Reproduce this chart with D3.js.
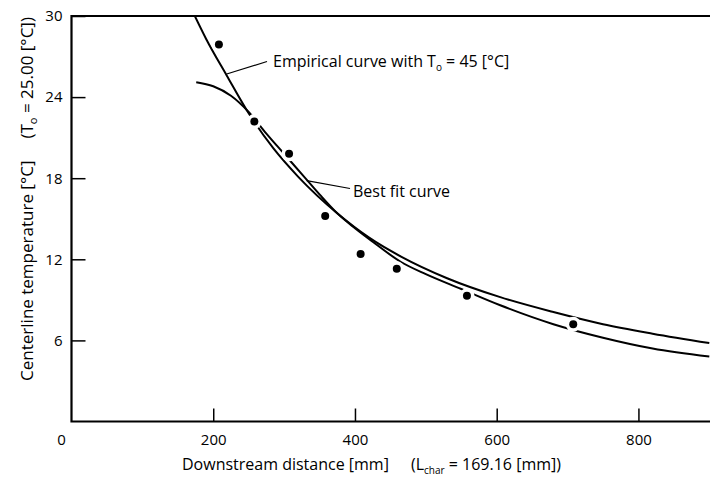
<!DOCTYPE html>
<html><head><meta charset="utf-8">
<script src="https://cdn.jsdelivr.net/npm/d3@7"></script>
<style>body{margin:0;background:#fff}svg{display:block}text{font-family:"Open Sans",sans-serif;fill:#000}</style>
</head><body><svg id="c" width="710" height="478"></svg>
<script>
// Measured points
const pointX = [208, 258, 307, 358, 408, 459, 558, 708];
const pointT = [27.9, 22.2, 19.8, 15.2, 12.4, 11.3, 9.3, 7.2];
// Empirical curve (T0 = 45 °C)
const empX = [174, 190, 219, 250, 285, 320, 375, 420, 465, 530, 605, 680, 750, 820, 900];
const empT = [30.0, 28.3, 25.6, 22.8, 20.2, 18.1, 15.4, 13.6, 12.2, 10.6, 9.2, 8.1, 7.2, 6.5, 5.8];
// Best fit curve
const fitX = [176, 200, 225, 250, 275, 300, 325, 350, 375, 400, 425, 465, 500, 550, 605, 680, 750, 820, 900];
const fitT = [25.1, 24.8, 24.1, 22.9, 21.3, 19.8, 18.3, 16.8, 15.4, 14.3, 13.3, 11.8, 10.9, 9.8, 8.6, 7.2, 6.2, 5.4, 4.8];
const xTicks = [0, 200, 400, 600, 800];
const yTicks = [6, 12, 18, 24, 30];

const svg = d3.select("#c");
const x = d3.scaleLinear().domain([0, 900]).range([71.5, 709.3]);
const y = d3.scaleLinear().domain([0, 30]).range([421.5, 16]);

svg.append("clipPath").attr("id","clip").append("rect")
  .attr("x", 71.5).attr("y", 16).attr("width", 640).attr("height", 406);

const xAxis = svg.append("g").attr("transform", `translate(0,${y(0)})`)
  .call(d3.axisBottom(x).tickValues(xTicks.filter(d => d > 0)).tickSize(-13).tickPadding(0).tickFormat(d3.format("d")));
xAxis.select(".domain").remove();
xAxis.selectAll(".tick line").attr("stroke", "#000").attr("stroke-width", 1.5);
xAxis.selectAll(".tick text").attr("font-size", 15).attr("y", 13).attr("dy", "0.71em").attr("font-family", "Open Sans");

const yAxis = svg.append("g").attr("transform", `translate(${x(0)},0)`)
  .call(d3.axisLeft(y).tickValues(yTicks).tickSize(-14).tickPadding(9).tickFormat(d3.format("d")));
yAxis.select(".domain").remove();
yAxis.selectAll(".tick line").attr("stroke", "#000").attr("stroke-width", 1.5);
yAxis.selectAll(".tick text").attr("font-size", 15).attr("font-family", "Open Sans");

svg.append("text").attr("x", x(0) - 10).attr("y", y(0) + 13).attr("dy", "0.71em")
  .attr("text-anchor", "middle").attr("font-size", 15).text(xTicks[0]);

svg.append("path").attr("d", `M${x(900)+2},${y(30)}H${x(0)}V${y(0)}H${x(900)+2}`)
  .attr("fill", "none").attr("stroke", "#000").attr("stroke-width", 2.2);

const line = d3.line().x(d => x(d[0])).y(d => y(d[1])).curve(d3.curveMonotoneX);
const plot = svg.append("g").attr("clip-path", "url(#clip)");
plot.append("path").datum(d3.zip(empX, empT)).attr("d", line)
  .attr("fill", "none").attr("stroke", "#000").attr("stroke-width", 2);
plot.append("path").datum(d3.zip(fitX, fitT)).attr("d", line)
  .attr("fill", "none").attr("stroke", "#000").attr("stroke-width", 2);

plot.selectAll("circle.halo").data(d3.zip(pointX, pointT)).join("circle")
  .attr("cx", d => x(d[0])).attr("cy", d => y(d[1])).attr("r", 7.5).attr("fill", "#fff");
plot.selectAll("circle.pt").data(d3.zip(pointX, pointT)).join("circle")
  .attr("cx", d => x(d[0])).attr("cy", d => y(d[1])).attr("r", 4).attr("fill", "#000");

svg.append("line").attr("x1", 226.7).attr("y1", 74).attr("x2", 267).attr("y2", 61.5)
  .attr("stroke", "#000").attr("stroke-width", 1.2);
const t1 = svg.append("text").attr("x", 273).attr("y", 67).attr("font-size", 16);
t1.append("tspan").text("Empirical curve with T");
t1.append("tspan").attr("font-size", 10).attr("dy", 4).text("o");
t1.append("tspan").attr("dy", -4).text(" = 45 [°C]");

svg.append("line").attr("x1", 306.7).attr("y1", 180.7).attr("x2", 350).attr("y2", 188.5)
  .attr("stroke", "#000").attr("stroke-width", 1.2);
svg.append("text").attr("x", 353).attr("y", 197).attr("font-size", 16).text("Best fit curve");

const xt = svg.append("text").attr("x", 182).attr("y", 470).attr("font-size", 16);
xt.append("tspan").text("Downstream distance [mm]");
xt.append("tspan").attr("dx", 22).text("(L");
xt.append("tspan").attr("font-size", 10).attr("dy", 4).text("char");
xt.append("tspan").attr("dy", -4).text(" = 169.16 [mm])");

const yt = svg.append("text").attr("transform", "translate(33,199) rotate(-90)")
  .attr("text-anchor", "middle").attr("font-size", 17);
yt.append("tspan").text("Centerline temperature [°C]");
yt.append("tspan").attr("dx", 22).text("(T");
yt.append("tspan").attr("font-size", 11).attr("dy", 4).text("o");
yt.append("tspan").attr("dy", -4).text(" = 25.00 [°C])");
</script></body></html>
